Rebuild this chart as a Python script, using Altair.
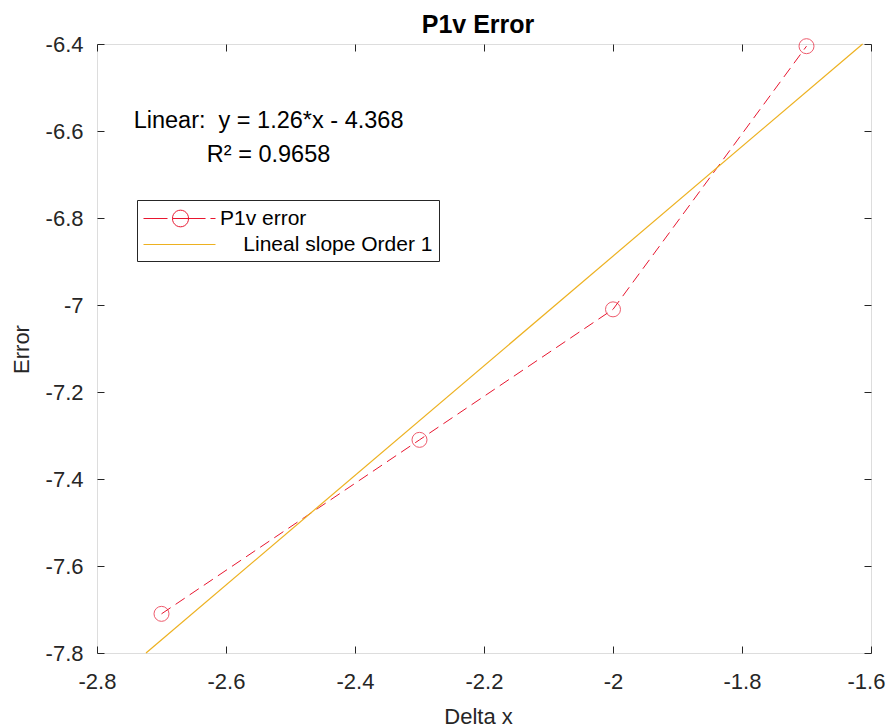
import altair as alt
import pandas as pd

# ---- data ----
delta_x = [-2.7, -2.3, -2.0, -1.7]
error = [-7.71, -7.31, -7.01, -6.405]
fit_x = [-2.724, -1.613]
fit_y = [-7.8, -6.4]
series_names = ["P1v error", "Lineal slope Order 1"]
x_ticks = [-2.8, -2.6, -2.4, -2.2, -2.0, -1.8, -1.6]
y_ticks = [-7.8, -7.6, -7.4, -7.2, -7.0, -6.8, -6.6, -6.4]
ann_x = [-2.534, -2.534]
ann_y = [-6.593, -6.671]
ann_text = ["Linear:\u00a0\u00a0y = 1.26*x - 4.368", "R\u00b2 = 0.9658"]

RED = "#e8162f"
YELLOW = "#EDB120"
AX = "#262626"
FONT = "Liberation Sans"

pts = pd.DataFrame({"x": delta_x, "y": error, "series": series_names[0]})
fit = pd.DataFrame({"x": fit_x, "y": fit_y, "series": series_names[1]})
both = pd.concat([pts, fit], ignore_index=True)
ann = pd.DataFrame({"x": ann_x, "y": ann_y, "t": ann_text})

xs = alt.Scale(domain=[-2.8, -1.6], nice=False, zero=False)
ys = alt.Scale(domain=[-7.8, -6.4], nice=False, zero=False)

common_axis = dict(grid=False, domain=False, tickColor=AX, tickWidth=1, tickSize=7,
                   offset=-7, labelFont=FONT, labelFontSize=22, labelColor=AX,
                   labelFlush=False, labelOverlap=False,
                   titleFont=FONT, titleFontSize=22, titleColor=AX, titleFontWeight="normal")

x_main = alt.Axis(orient="bottom", values=x_ticks, labelExpr="'' + datum.value",
                  labelPadding=18, title="Delta x", titleBaseline="alphabetic",
                  labelOffset={"condition": {"test": "datum.value == -1.6", "value": -5},
                               "value": 0},
                  titleX=381, titleY=77, titleAlign="center", **common_axis)
y_main = alt.Axis(orient="left", values=y_ticks, labelExpr="'' + datum.value",
                  labelPadding=14, title="Error", titleBaseline="alphabetic",
                  titleAngle=270, titleX=-76, titleY=305, titleAlign="center", **common_axis)
x_top = alt.Axis(orient="top", values=x_ticks, labels=False, title=None, **common_axis)
y_right = alt.Axis(orient="right", values=y_ticks, labels=False, title=None, **common_axis)

line = alt.Chart(pts).mark_line(color=RED, strokeWidth=1, strokeDash=[11, 6]).encode(
    x=alt.X("x:Q", scale=xs, axis=x_main),
    y=alt.Y("y:Q", scale=ys, axis=y_main),
)

fitline = alt.Chart(fit).mark_line(color=YELLOW, strokeWidth=1.2).encode(
    x=alt.X("x:Q", scale=xs, axis=x_top),
    y=alt.Y("y:Q", scale=ys, axis=y_right),
)

circles = alt.Chart(pts).mark_point(shape="circle", filled=False, color=RED, size=225,
                                    strokeWidth=1).encode(
    x=alt.X("x:Q", scale=xs, axis=None),
    y=alt.Y("y:Q", scale=ys, axis=None),
)

text = alt.Chart(ann).mark_text(align="center", baseline="alphabetic", font=FONT,
                                fontSize=23.5, color="black").encode(
    x=alt.X("x:Q", scale=xs, axis=None),
    y=alt.Y("y:Q", scale=ys, axis=None),
    text="t:N",
)

path1 = ("M-1,0H1M1.417,0H4.17M4.58,0H5"
         "M2.75,0A0.667,0.667,0,1,1,1.417,0A0.667,0.667,0,1,1,2.75,0")
path2 = "M-1,0H5"

leg = alt.Legend(title=None, orient="none", legendX=40, legendY=156,
                 strokeColor=AX, fillColor="white", padding=6, rowPadding=3,
                 symbolSize=576, symbolStrokeWidth=1, symbolOpacity=1,
                 labelFont=FONT, labelFontSize=21, labelColor="black", labelLimit=500,
                 labelOffset=52, labelBaseline="middle",
                 labelExpr="indexof(datum.label, 'Lineal') == 0 ? '\u200b\u00a0\u00a0\u00a0\u00a0' + datum.label : datum.label")

legend_layer = alt.Chart(both).mark_point(filled=False, opacity=0).encode(
    x=alt.X("x:Q", scale=xs, axis=None),
    y=alt.Y("y:Q", scale=ys, axis=None),
    shape=alt.Shape("series:N", scale=alt.Scale(domain=series_names, range=[path1, path2]),
                    legend=leg),
    color=alt.Color("series:N", scale=alt.Scale(domain=series_names, range=[RED, YELLOW]),
                    legend=leg),
)

chart = alt.layer(line, fitline, circles, text, legend_layer).resolve_axis(
    x="independent", y="independent"
).properties(
    width=774, height=609,
    padding={"left": 89, "top": 36, "right": 15, "bottom": 74},
    autosize=alt.AutoSizeParams(type="none"),
    title=alt.TitleParams("P1v Error", fontSize=25, fontWeight="bold", font=FONT,
                          color="black", offset=11, baseline="alphabetic", dx=-6, dy=36,
                          anchor="middle"),
).configure_view(stroke=AX, strokeWidth=1).configure(background="white")

chart.save("out.html", embed_options={"renderer": "svg", "actions": False})
